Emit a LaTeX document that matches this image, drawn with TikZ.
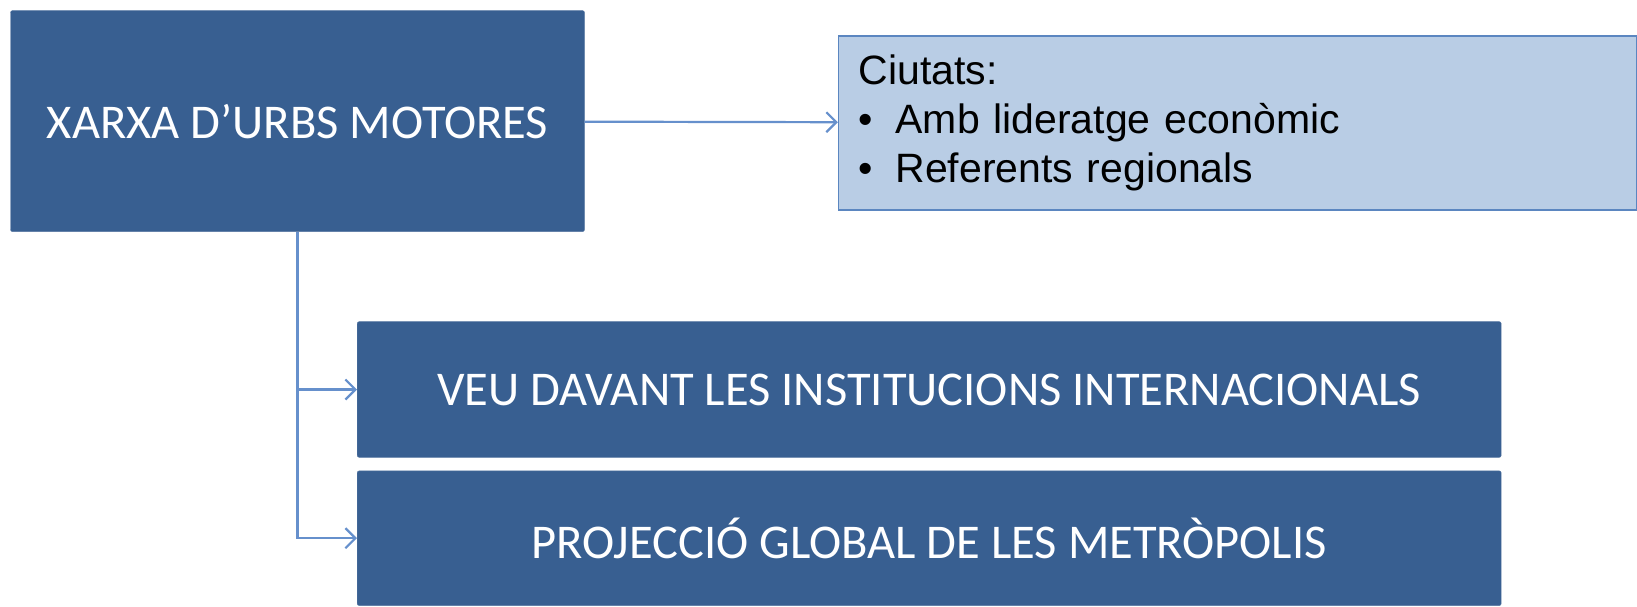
\documentclass[tikz,border=0pt]{standalone}
\usepackage{fontspec}
\setmainfont{Carlito}
\newfontfamily\arialfont{Liberation Sans}
\usetikzlibrary{arrows.meta}
\definecolor{boxblue}{HTML}{385F91}
\definecolor{lineblue}{HTML}{6690CC}
\definecolor{paleblue}{HTML}{B9CDE5}
\definecolor{edgeblue}{HTML}{5B86C0}
\tikzset{
  darkbox/.style={rectangle, rounded corners=2pt, fill=boxblue, draw=boxblue!85!white, text=white, font=\fontsize{48.5}{56}\selectfont},
  lightbox/.style={rectangle, fill=paleblue, draw=edgeblue, line width=1.5pt, text=black, align=left, inner xsep=20pt, inner ysep=4pt, font=\arialfont\fontsize{41}{49}\selectfont},
  link/.style={-{Straight Barb[length=10pt,width=20pt]}, line width=2.2pt, draw=lineblue}
}
\begin{document}
\begin{tikzpicture}[x=1pt, y=-1pt]
\useasboundingbox (0,0) rectangle (1637,606);
\node[darkbox, minimum width=574pt, minimum height=221pt] (xarxa) at (297.5,121.1) {XARXA D’URBS MOTORES};
\node[lightbox, minimum width=798pt, minimum height=174pt, text width=758pt] (ciutats) at (1237.6,123) {Ciutats:\\\textbullet\hspace{0.55em}Amb lideratge econòmic\\\textbullet\hspace{0.55em}Referents regionals};
\node[darkbox, minimum width=1144pt, minimum height=135.7pt] (veu) at (929.2,389.5) {VEU DAVANT LES INSTITUCIONS INTERNACIONALS};
\node[darkbox, minimum width=1144pt, minimum height=134.7pt] (proj) at (929.2,538.2) {PROJECCIÓ GLOBAL DE LES METRÒPOLIS};
\path [link] (xarxa) edge (ciutats);
\draw [link] (xarxa.south) |- (veu.west);
\draw [link] (xarxa.south) |- (proj.west);
\end{tikzpicture}
\end{document}
